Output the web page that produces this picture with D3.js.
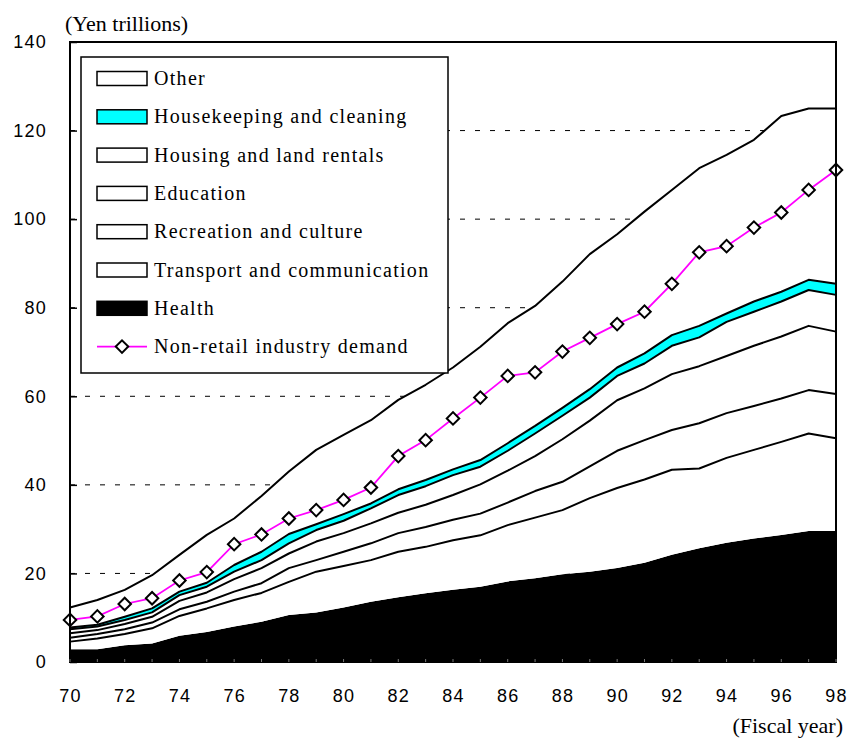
<!DOCTYPE html>
<html>
<head>
<meta charset="utf-8">
<script src="https://cdn.jsdelivr.net/npm/d3@7"></script>
<style>
  html, body { margin: 0; padding: 0; background: #fff; }
  svg { display: block; }
</style>
</head>
<body>
<svg id="chart" width="849" height="742"></svg>
<script>
// Fiscal years 1970-1998
const years = [70,71,72,73,74,75,76,77,78,79,80,81,82,83,84,85,86,87,88,89,90,91,92,93,94,95,96,97,98];

// Component values, yen trillions (stacked bottom to top)
const health        = [2.9,2.9,3.8,4.2,5.9,6.8,8.0,9.1,10.6,11.2,12.3,13.6,14.6,15.5,16.3,17.0,18.2,18.9,19.8,20.4,21.2,22.4,24.2,25.7,26.9,27.9,28.7,29.6,29.6];
const transport     = [1.7,2.4,2.5,3.4,4.5,5.3,6.0,6.5,7.5,9.2,9.4,9.4,10.3,10.5,11.2,11.6,12.7,13.7,14.5,16.6,18.1,18.8,19.2,18.0,19.2,20.0,21.0,22.0,20.9];
const recreation    = [0.9,1.0,1.1,1.3,1.5,1.5,1.9,2.2,3.1,2.6,3.2,3.8,4.2,4.5,4.6,4.9,5.1,6.0,6.4,7.2,8.4,8.9,9.0,10.2,10.1,9.9,9.8,9.8,10.0];
const education     = [1.0,0.9,1.2,1.3,1.9,2.1,2.8,3.4,3.3,4.2,4.2,4.5,4.6,5.0,5.6,6.6,7.2,7.9,9.6,10.3,11.4,11.7,12.6,12.9,12.9,13.6,14.0,14.5,14.1];
const housing       = [0.9,0.8,0.9,1.0,1.3,1.3,1.7,1.8,2.3,2.6,2.8,3.4,4.0,4.2,4.5,4.0,4.5,5.1,5.3,5.2,5.5,5.6,6.4,6.5,7.7,7.7,7.9,8.1,8.3];
const housekeeping  = [0.4,0.4,0.7,0.9,0.8,0.9,1.5,1.9,2.1,1.3,1.5,1.1,1.3,1.4,1.3,1.5,1.7,1.7,1.8,1.9,1.9,2.3,2.4,2.6,1.9,2.3,2.2,2.3,2.5];
const other         = [4.5,5.6,6.1,7.5,8.3,10.8,10.5,12.6,14.1,16.8,17.9,18.8,20.2,21.5,23.0,25.6,27.1,27.1,28.5,30.5,30.1,32.0,32.8,35.6,35.8,36.5,39.7,38.7,39.6];

// Non-retail industry demand
const demand        = [9.5,10.3,13.1,14.4,18.4,20.3,26.6,28.8,32.4,34.3,36.6,39.4,46.5,50.1,55.0,59.7,64.6,65.4,70.1,73.2,76.3,79.1,85.4,92.5,93.9,98.1,101.5,106.6,111.1];

// Axis ticks
const yTicks = [0,20,40,60,80,100,120,140];
const xTicks = [70,72,74,76,78,80,82,84,86,88,90,92,94,96,98];

const seriesKeys   = ["health","transport","recreation","education","housing","housekeeping","other"];
const seriesValues = [health, transport, recreation, education, housing, housekeeping, other];
const seriesFill   = { health:"#000000", transport:"#ffffff", recreation:"#ffffff", education:"#ffffff",
                       housing:"#ffffff", housekeeping:"#00ffff", other:"#ffffff" };

const legendItems = [
  { label: "Other", fill: "#ffffff" },
  { label: "Housekeeping and cleaning", fill: "#00ffff" },
  { label: "Housing and land rentals", fill: "#ffffff" },
  { label: "Education", fill: "#ffffff" },
  { label: "Recreation and culture", fill: "#ffffff" },
  { label: "Transport and communication", fill: "#ffffff" },
  { label: "Health", fill: "#000000" },
  { label: "Non-retail industry demand", line: true }
];

const rows = years.map((yr, i) => {
  const r = { year: yr };
  seriesKeys.forEach((k, j) => r[k] = seriesValues[j][i]);
  return r;
});

const svg = d3.select("#chart");
const plot = { left: 70, right: 836, top: 42, bottom: 662 };

const x = d3.scaleLinear().domain([70, 98]).range([plot.left, plot.right]);
const y = d3.scaleLinear().domain([0, 140]).range([plot.bottom, plot.top]);

const sansFont  = "'Liberation Sans', Arial, sans-serif";
const serifFont = "'Liberation Serif', 'Times New Roman', serif";

// Dashed gridlines behind the areas
svg.append("g")
  .selectAll("line")
  .data(yTicks.filter(t => t > 0 && t < 140))
  .join("line")
  .attr("x1", plot.left).attr("x2", plot.right)
  .attr("y1", d => y(d)).attr("y2", d => y(d))
  .attr("stroke", "#000").attr("stroke-width", 1)
  .attr("stroke-dasharray", "5,10");

// Stacked areas
const stack = d3.stack().keys(seriesKeys);
const layers = stack(rows);

const area = d3.area()
  .x(d => x(d.data.year))
  .y0(d => y(d[0]))
  .y1(d => y(d[1]));

const topLine = d3.line()
  .x(d => x(d.data.year))
  .y(d => y(d[1]));

svg.append("g")
  .selectAll("path")
  .data(layers)
  .join("path")
  .attr("d", area)
  .attr("fill", d => seriesFill[d.key]);

svg.append("g")
  .selectAll("path")
  .data(layers.filter(l => l.key !== "health"))
  .join("path")
  .attr("d", topLine)
  .attr("fill", "none")
  .attr("stroke", "#000")
  .attr("stroke-width", 2)
  .attr("stroke-linejoin", "round");

// Non-retail industry demand line with diamond markers
const demandLine = d3.line()
  .x((d, i) => x(years[i]))
  .y(d => y(d));

svg.append("path")
  .datum(demand)
  .attr("d", demandLine)
  .attr("fill", "none")
  .attr("stroke", "#ff00ff")
  .attr("stroke-width", 1.8);

const diamond = d3.symbol().type(d3.symbolSquare).size(78);
svg.append("g")
  .selectAll("path")
  .data(demand)
  .join("path")
  .attr("d", diamond)
  .attr("transform", (d, i) => `translate(${x(years[i])},${y(d)}) rotate(45)`)
  .attr("fill", "#fff")
  .attr("stroke", "#000")
  .attr("stroke-width", 2);

// Frame
svg.append("rect")
  .attr("x", plot.left).attr("y", plot.top)
  .attr("width", plot.right - plot.left).attr("height", plot.bottom - plot.top)
  .attr("fill", "none").attr("stroke", "#000").attr("stroke-width", 2);

// Y axis
const yAxis = d3.axisLeft(y).tickValues(yTicks).tickSize(-7).tickPadding(23);
const gy = svg.append("g").attr("transform", `translate(${plot.left},0)`).call(yAxis);
gy.select(".domain").remove();
gy.selectAll(".tick line").attr("stroke", "#000").attr("stroke-width", 1.5);
gy.selectAll(".tick text")
  .attr("font-family", sansFont).attr("font-size", 18).attr("fill", "#000")
  .attr("letter-spacing", 1.2);

// X axis
const xAxis = d3.axisBottom(x).tickValues(xTicks).tickSize(0).tickPadding(27).tickFormat(d => String(d));
const gx = svg.append("g").attr("transform", `translate(0,${plot.bottom})`).call(xAxis);
gx.select(".domain").remove();
gx.selectAll(".tick text")
  .attr("font-family", sansFont).attr("font-size", 18).attr("fill", "#000")
  .attr("letter-spacing", 1.2);

// Small year ticks along the base
svg.append("g")
  .selectAll("line")
  .data(years)
  .join("line")
  .attr("x1", d => x(d)).attr("x2", d => x(d))
  .attr("y1", plot.bottom).attr("y2", plot.bottom - 3)
  .attr("stroke", "#777").attr("stroke-width", 1);

// Axis titles
svg.append("text")
  .attr("x", 65).attr("y", 31)
  .attr("font-family", serifFont).attr("font-size", 22)
  .text("(Yen trillions)");

svg.append("text")
  .attr("x", 843).attr("y", 733)
  .attr("text-anchor", "end")
  .attr("font-family", serifFont).attr("font-size", 22)
  .text("(Fiscal year)");

// Legend
const legend = svg.append("g");
legend.append("rect")
  .attr("x", 81).attr("y", 57).attr("width", 367).attr("height", 316)
  .attr("fill", "#fff").attr("stroke", "#000").attr("stroke-width", 1.5);

const rowY = i => 78.5 + i * 38.3;
legendItems.forEach((item, i) => {
  const cy = rowY(i);
  if (item.line) {
    legend.append("line")
      .attr("x1", 97).attr("x2", 147).attr("y1", cy).attr("y2", cy)
      .attr("stroke", "#ff00ff").attr("stroke-width", 1.8);
    legend.append("path")
      .attr("d", diamond)
      .attr("transform", `translate(122,${cy}) rotate(45)`)
      .attr("fill", "#fff").attr("stroke", "#000").attr("stroke-width", 2);
  } else {
    legend.append("rect")
      .attr("x", 97).attr("y", cy - 7).attr("width", 50).attr("height", 14)
      .attr("fill", item.fill).attr("stroke", "#000").attr("stroke-width", 1.5);
  }
  legend.append("text")
    .attr("x", 154).attr("y", cy + 6.5)
    .attr("font-family", serifFont).attr("font-size", 20)
    .attr("letter-spacing", 1.3)
    .text(item.label);
});
</script>
</body>
</html>
